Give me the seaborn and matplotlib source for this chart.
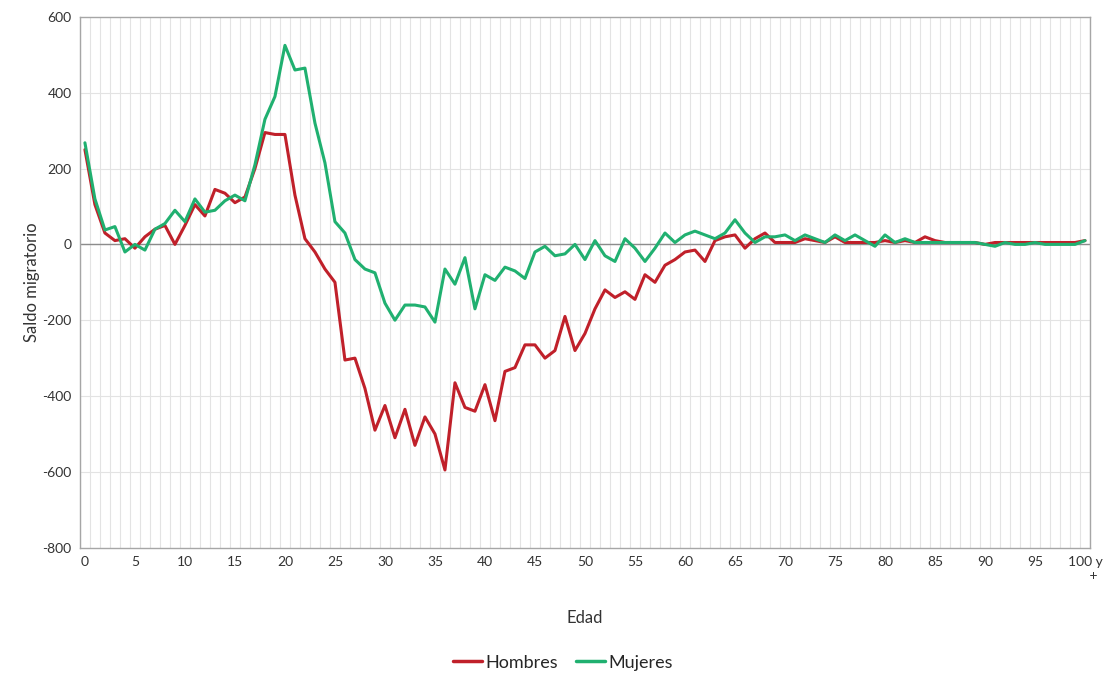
import numpy as np
import pandas as pd
import seaborn as sns
import matplotlib
matplotlib.use("Agg")
import matplotlib.pyplot as plt

# edades 0..100 ("100 y +")
edades = list(range(0, 101))

hombres = [250, 105, 30, 10, 15, -10, 20, 40, 50, 0,
           50, 105, 75, 145, 135, 110, 125, 200, 295, 290,
           290, 130, 15, -20, -65, -100, -305, -300, -380, -490,
           -425, -510, -435, -530, -455, -500, -595, -365, -430, -440,
           -370, -465, -335, -325, -265, -265, -300, -280, -190, -280,
           -235, -170, -120, -140, -125, -145, -80, -100, -55, -40,
           -20, -15, -45, 10, 20, 25, -10, 15, 30, 5,
           5, 5, 15, 10, 5, 20, 5, 5, 5, 5,
           10, 5, 10, 5, 20, 10, 5, 5, 5, 5,
           0, 5, 5, 5, 5, 5, 5, 5, 5, 5,
           10]

mujeres = [268, 120, 38, 47, -20, 0, -15, 40, 55, 90,
           60, 120, 85, 90, 115, 130, 115, 210, 330, 390,
           525, 460, 465, 320, 215, 60, 30, -40, -65, -75,
           -155, -200, -160, -160, -165, -205, -65, -105, -35, -170,
           -80, -95, -60, -70, -90, -20, -5, -30, -25, 0,
           -40, 10, -30, -45, 15, -10, -45, -10, 30, 5,
           25, 35, 25, 15, 30, 65, 30, 5, 20, 20,
           25, 10, 25, 15, 5, 25, 10, 25, 10, -5,
           25, 5, 15, 5, 5, 5, 5, 5, 5, 5,
           0, -5, 5, 0, 0, 5, 0, 0, 0, 0,
           10]

series = ["Hombres", "Mujeres"]
colores = {"Hombres": "#C0202A", "Mujeres": "#20B070"}

df = pd.DataFrame({
    "Edad": edades * 2,
    "Saldo": hombres + mujeres,
    "Sexo": ["Hombres"] * len(edades) + ["Mujeres"] * len(edades),
})

sns.set_style("white")
plt.rcParams["font.family"] = ["Lato", "DejaVu Sans"]

fig = plt.figure(figsize=(11.1, 6.77), dpi=100)
ax = fig.add_axes([0.072, 0.191, 0.910, 0.784])

# gridlines (vertical between categories, horizontal every 200)
for x in np.arange(-0.5, 101, 1.0):
    ax.axvline(x, color="#E3E3E3", lw=0.8, zorder=0)
for y in range(-600, 600, 200):
    ax.axhline(y, color="#E3E3E3", lw=0.8, zorder=0)
ax.axhline(0, color="#8C8C8C", lw=1.0, zorder=1)

sns.lineplot(data=df, x="Edad", y="Saldo", hue="Sexo", hue_order=series,
             palette=colores, lw=2.2, ax=ax, legend=False, zorder=3)

ax.set_xlim(-0.5, 100.5)
ax.set_ylim(-800, 600)
ax.set_yticks(range(-800, 601, 200))
ax.set_yticklabels([str(v) for v in range(-800, 601, 200)], fontsize=10, color="#333333")
xt = list(range(0, 101, 5))
xl = [str(v) for v in xt]
xl[-1] = "100 y\n     +"
ax.set_xticks(xt)
ax.set_xticklabels(xl, fontsize=10, color="#333333", va="top")
ax.tick_params(length=0, pad=6)

for s in ax.spines.values():
    s.set_color("#A6A6A6")
    s.set_linewidth(1.0)

ax.set_xlabel("Edad", fontsize=12, color="#333333", labelpad=20)
ax.set_ylabel("Saldo migratorio", fontsize=12, color="#333333", labelpad=2)

handles = [plt.Line2D([], [], color=colores[s], lw=2.5) for s in series]
fig.legend(handles, series, loc="center", bbox_to_anchor=(0.507, 0.021),
           ncol=2, frameon=False, fontsize=13, handlelength=1.6,
           handletextpad=0.2, columnspacing=1.0)

fig.savefig("out.png", dpi=100)
